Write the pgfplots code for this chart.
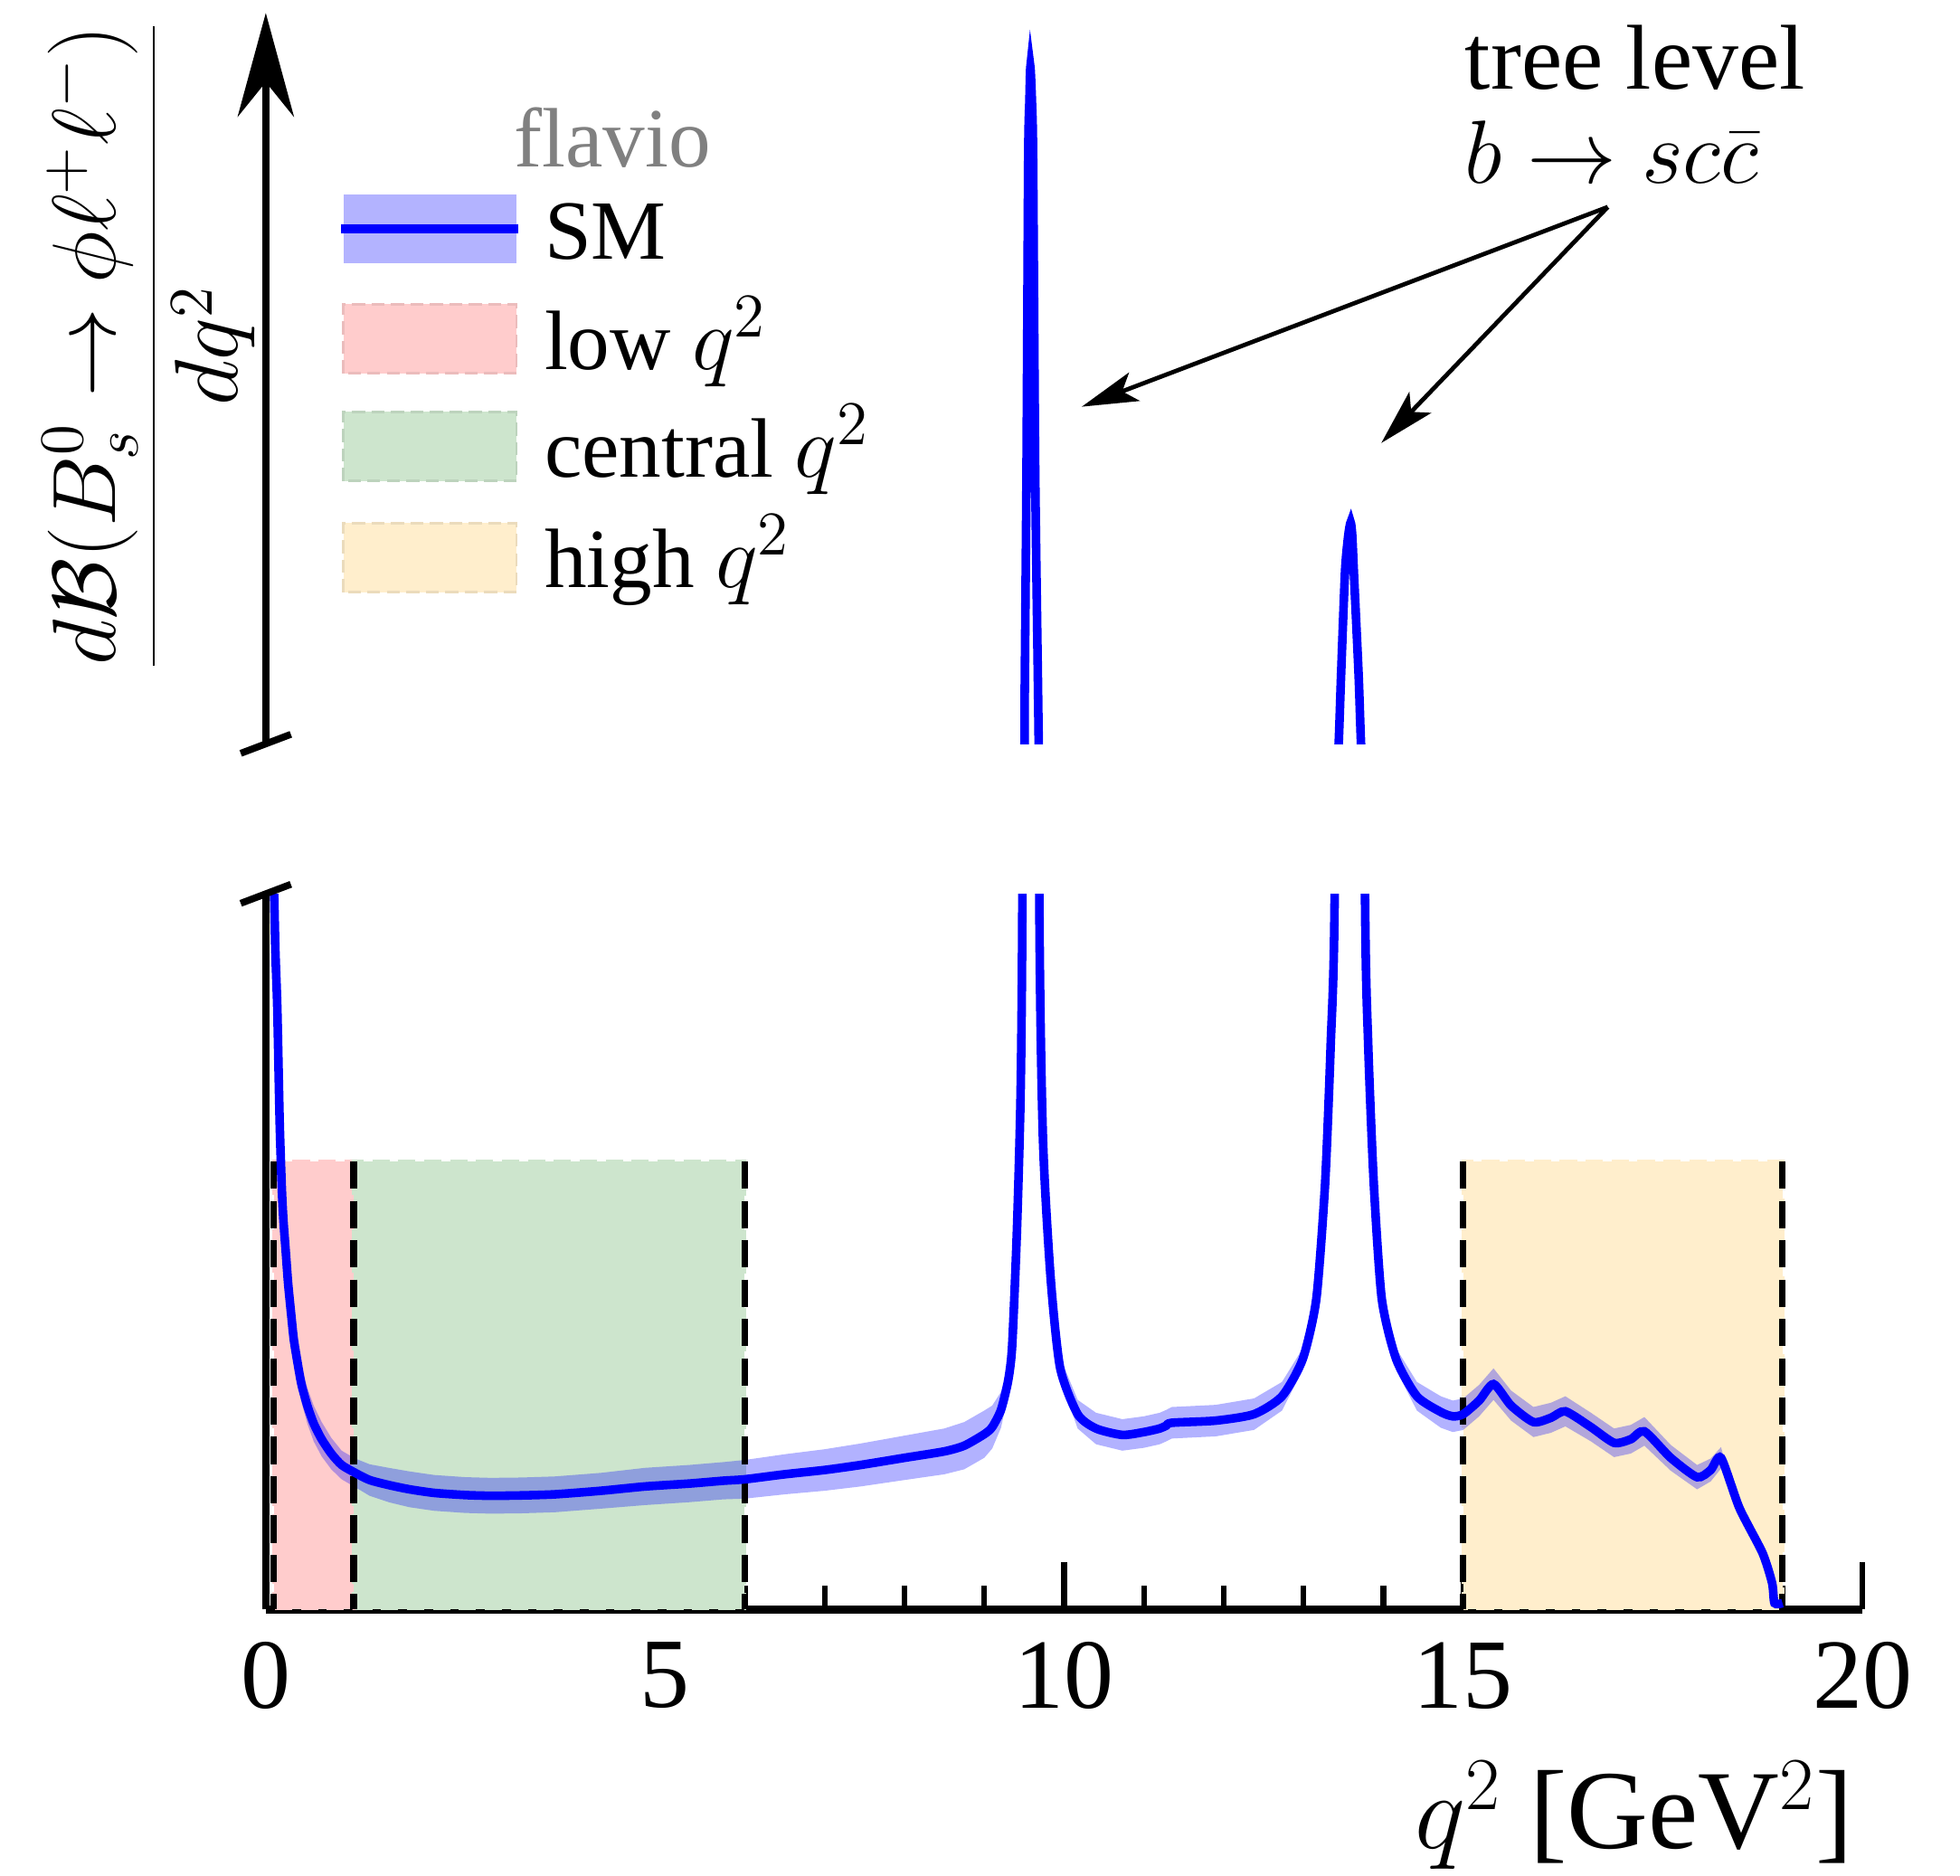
\documentclass[border=0pt]{standalone}
\usepackage{fontspec}
\setmainfont{Liberation Serif}
\usepackage{pgfplots}
\usepackage{pgfplotstable}
\pgfplotsset{compat=1.18}
\usetikzlibrary{arrows.meta}

\definecolor{smblue}{RGB}{0,0,255}
\definecolor{lowfill}{RGB}{255,204,204}
\definecolor{cenfill}{RGB}{205,229,205}
\definecolor{highfill}{RGB}{255,238,204}
\definecolor{bandfill}{RGB}{179,179,255}

% SM central value: q^2, dB/dq^2 (lower panel 0..10, upper panel 20..120)
\pgfplotstableread{
q      y
0.100  10.6
0.105  10.0
0.120  9.20
0.144  8.40
0.174  6.80
0.200  5.90
0.220  5.45
0.250  5.00
0.280  4.55
0.320  4.10
0.350  3.78
0.390  3.50
0.446  3.15
0.520  2.85
0.600  2.60
0.700  2.38
0.820  2.18
0.950  2.02
1.120  1.91
1.300  1.81
1.540  1.74
1.800  1.68
2.110  1.63
2.500  1.60
2.820  1.59
3.200  1.595
3.620  1.61
4.200  1.66
4.750  1.72
5.300  1.76
5.730  1.80
6.000  1.82
6.500  1.89
7.000  1.95
7.450  2.02
8.000  2.12
8.500  2.21
8.750  2.29
9.000  2.45
9.100  2.55
9.210  2.79
9.300  3.20
9.350  3.69
9.410  5.31
9.456  7.24
9.478  10.0
9.505  20.0
9.508  28.0
9.530  57.8
9.551  100.4
9.566  108.0
9.578  112.6
9.597  108.0
9.612  100.4
9.638  57.8
9.673  28.0
9.682  20.0
9.690  10.0
9.735  6.60
9.830  4.66
9.950  3.38
10.17  2.73
10.40  2.53
10.73  2.44
11.00  2.48
11.20  2.53
11.28  2.57
11.35  2.61
11.90  2.64
12.38  2.73
12.73  2.98
12.99  3.50
13.16  4.34
13.27  5.95
13.34  7.89
13.39  10.0
13.44  20.0
13.47  29.4
13.52  43.6
13.56  48.5
13.59  50.3
13.61  48.5
13.63  43.6
13.69  29.4
13.72  20.0
13.77  10.0
13.81  7.89
13.88  5.95
13.98  4.34
14.16  3.50
14.42  2.98
14.72  2.76
14.87  2.70
15.00  2.73
15.20  2.92
15.38  3.15
15.60  2.85
15.88  2.62
16.10  2.68
16.28  2.77
16.60  2.55
16.89  2.33
17.10  2.38
17.27  2.49
17.60  2.12
17.93  1.85
18.10  1.95
18.23  2.12
18.46  1.42
18.75  0.79
18.87  0.37
18.90  0.09
19.00  0.09
}\smdata

% uncertainty band outlines (upper edge forward, lower edge back)
\pgfplotstableread{
q      y
0.105  10.10
0.120  9.35
0.144  8.60
0.174  7.05
0.200  6.15
0.220  5.70
0.250  5.25
0.280  4.80
0.320  4.35
0.350  4.03
0.390  3.75
0.446  3.40
0.520  3.10
0.600  2.85
0.700  2.62
0.820  2.40
0.950  2.22
1.120  2.11
1.300  2.03
1.540  1.98
1.800  1.93
2.110  1.88
2.500  1.85
2.820  1.84
3.200  1.845
3.620  1.86
4.200  1.91
4.750  1.98
5.300  2.02
5.730  2.06
6.000  2.09
6.500  2.17
7.000  2.24
7.450  2.32
8.000  2.43
8.500  2.53
8.750  2.62
9.000  2.78
9.100  2.85
9.210  3.04
9.300  3.40
9.350  3.84
9.410  5.41
9.456  7.29
9.456  7.19
9.410  5.21
9.350  3.54
9.300  3.00
9.210  2.54
9.100  2.25
9.000  2.12
8.750  1.96
8.500  1.89
8.000  1.81
7.450  1.72
7.000  1.66
6.500  1.61
6.000  1.55
5.730  1.54
5.300  1.50
4.750  1.46
4.200  1.41
3.620  1.36
3.200  1.345
2.820  1.34
2.500  1.35
2.110  1.38
1.800  1.43
1.540  1.50
1.300  1.59
1.120  1.71
0.950  1.82
0.820  1.96
0.700  2.14
0.600  2.35
0.520  2.60
0.446  2.90
0.390  3.25
0.350  3.53
0.320  3.85
0.280  4.30
0.250  4.75
0.220  5.20
0.200  5.65
0.174  6.55
0.144  8.20
0.120  9.05
0.105  9.90
}\bandA

\pgfplotstableread{
q      y
9.735  6.65
9.830  4.76
9.950  3.53
10.17  2.93
10.40  2.75
10.73  2.66
11.00  2.70
11.20  2.75
11.28  2.79
11.35  2.83
11.90  2.86
12.38  2.95
12.73  3.18
12.99  3.65
13.16  4.44
13.27  6.00
13.27  5.90
13.16  4.24
12.99  3.35
12.73  2.78
12.38  2.51
11.90  2.42
11.35  2.39
11.28  2.35
11.20  2.31
11.00  2.26
10.73  2.22
10.40  2.31
10.17  2.53
9.950  3.23
9.830  4.56
9.735  6.55
}\bandB

\pgfplotstableread{
q      y
13.88  6.00
13.98  4.44
14.16  3.65
14.42  3.18
14.72  2.98
14.87  2.92
15.00  2.95
15.20  3.14
15.38  3.37
15.60  3.06
15.88  2.83
16.10  2.89
16.28  2.98
16.60  2.75
16.89  2.53
17.10  2.58
17.27  2.69
17.60  2.30
17.93  2.02
18.10  2.11
18.23  2.27
18.30  1.98
18.30  1.88
18.23  1.97
18.10  1.79
17.93  1.68
17.60  1.94
17.27  2.29
17.10  2.18
16.89  2.13
16.60  2.35
16.28  2.56
16.10  2.47
15.88  2.41
15.60  2.64
15.38  2.93
15.20  2.70
15.00  2.51
14.87  2.48
14.72  2.54
14.42  2.78
14.16  3.35
13.98  4.24
13.88  5.90
}\bandC

\begin{document}
\begin{tikzpicture}
\useasboundingbox (0,0) rectangle (453.5pt,433.9pt);

% lower panel
\begin{axis}[
  at={(61.5pt,61.5pt)}, anchor=south west, scale only axis,
  width=369.4pt, height=165.6pt,
  xmin=0, xmax=20, ymin=0, ymax=10,
  axis x line=bottom, axis y line=left,
  axis line style={-, line width=1.8pt},
  ytick=\empty, xtick={0,5,10,15,20}, minor x tick num=4,
  tick align=inside, major tick length=11pt, minor tick length=5.5pt,
  tick style={black, line width=1.3pt},
  tick label style={font=\fontsize{23}{27}\selectfont},
  xticklabel style={yshift=-4pt},
  /pgf/number format/assume math mode=true,
]
\addplot[draw=lowfill, dash pattern=on 4pt off 2pt, line width=0.8pt, fill=lowfill] coordinates {(0.1,0) (0.1,6.26) (1.1,6.26) (1.1,0)} -- cycle;
\addplot[draw=cenfill, dash pattern=on 4pt off 2pt, line width=0.8pt, fill=cenfill] coordinates {(1.1,0) (1.1,6.26) (6,6.26) (6,0)} -- cycle;
\addplot[draw=highfill, dash pattern=on 4pt off 2pt, line width=0.8pt, fill=highfill] coordinates {(15,0) (15,6.26) (19,6.26) (19,0)} -- cycle;
\addplot[fill=blue, fill opacity=0.3, draw=none] table[x=q, y=y] {\bandA} -- cycle;
\addplot[fill=blue, fill opacity=0.3, draw=none] table[x=q, y=y] {\bandB} -- cycle;
\addplot[fill=blue, fill opacity=0.3, draw=none] table[x=q, y=y] {\bandC} -- cycle;
\addplot[black, line width=1.5pt, dash pattern=on 6.3pt off 2.8pt] coordinates {(0.1,6.26) (0.1,0)};
\addplot[black, line width=1.5pt, dash pattern=on 6.3pt off 2.8pt] coordinates {(1.1,6.26) (1.1,0)};
\addplot[black, line width=1.5pt, dash pattern=on 6.3pt off 2.8pt] coordinates {(6,6.26) (6,0)};
\addplot[black, line width=1.5pt, dash pattern=on 6.3pt off 2.8pt] coordinates {(15,6.26) (15,0)};
\addplot[black, line width=1.5pt, dash pattern=on 6.3pt off 2.8pt] coordinates {(19,6.26) (19,0)};
\addplot[smblue, line width=2pt, smooth, tension=0.4] table[x=q, y=y] {\smdata};
\end{axis}

% upper panel
\begin{axis}[
  at={(61.5pt,261.8pt)}, anchor=south west, scale only axis,
  width=369.4pt, height=169.1pt,
  xmin=0, xmax=20, ymin=20, ymax=120,
  axis lines=none, xtick=\empty, ytick=\empty,
]
\addplot[smblue, line width=2pt, smooth, tension=0.4] table[x=q, y=y] {\smdata};
\end{axis}

% y axis of upper panel and break marks
\draw[line width=1.8pt, -{Stealth[length=24pt, width=13pt, inset=8pt]}] (61.5pt,261.8pt) -- (61.5pt,430.9pt);
\draw[line width=1.6pt] (55.7pt,259.6pt) -- (67.3pt,264.0pt);
\draw[line width=1.6pt] (55.7pt,224.9pt) -- (67.3pt,229.3pt);

% y label
\node[rotate=90, font=\fontsize{19.5}{23}\selectfont] at (34.5pt,353.9pt)
  {$\displaystyle\frac{d\mathcal{B}(B_s^0\to\phi\ell^+\ell^-)}{dq^2}$};

% x label
\node[anchor=base east, inner sep=0, font=\fontsize{26}{31}\selectfont] at (429pt,6.3pt) {$q^2$ [GeV$^2$]};

% legend
\node[text=gray, font=\fontsize{19.5}{23}\selectfont] at (141.7pt,402.1pt) {flavio};
\fill[bandfill] (79.5pt,373pt) rectangle (119.5pt,388.9pt);
\draw[smblue, line width=2pt] (79pt,380.9pt) -- (120pt,380.9pt);
\filldraw[fill=lowfill, draw=lowfill!92!black, dash pattern=on 3pt off 1.5pt, line width=0.6pt] (79.5pt,347.5pt) rectangle (119.5pt,363.5pt);
\filldraw[fill=cenfill, draw=cenfill!92!black, dash pattern=on 3pt off 1.5pt, line width=0.6pt] (79.5pt,322.6pt) rectangle (119.5pt,338.6pt);
\filldraw[fill=highfill, draw=highfill!92!black, dash pattern=on 3pt off 1.5pt, line width=0.6pt] (79.5pt,296.9pt) rectangle (119.5pt,312.9pt);
\begin{scope}[every node/.style={anchor=base west, inner sep=0, font=\fontsize{19.5}{23}\selectfont}]
\node at (125.8pt,373.9pt) {SM};
\node at (125.8pt,348.5pt) {low $q^2$};
\node at (125.8pt,323.6pt) {central $q^2$};
\node at (125.8pt,297.9pt) {high $q^2$};
\end{scope}

% annotation
\node[anchor=north west, inner sep=0, align=left, font=\fontsize{21.3}{21.8}\selectfont] at (338.8pt,428.2pt) {tree level\\$b\to sc\bar{c}$};
\draw[line width=1pt, -{Stealth[length=13pt, width=7pt, inset=3pt]}] (372pt,386pt) -- (250.3pt,339.8pt);
\draw[line width=1pt, -{Stealth[length=13pt, width=7pt, inset=3pt]}] (372pt,386pt) -- (319.6pt,331.4pt);
\end{tikzpicture}
\end{document}
